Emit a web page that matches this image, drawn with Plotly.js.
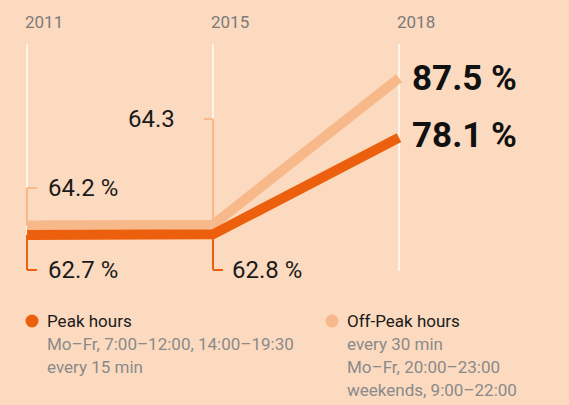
<!DOCTYPE html>
<html><head><meta charset="utf-8">
<script src="https://cdn.plot.ly/plotly-3.0.1.min.js"></script>
<style>html,body{margin:0;padding:0;background:#FCDAC0;} #chart{width:569px;height:405px;}</style>
</head><body><div id="chart"></div>
<script>
// ---- data ----
const years = ['2011', '2015', '2018'];
const peak = [62.7, 62.8, 78.1];
const offPeak = [64.2, 64.3, 87.5];
const peakLabels = ['62.7 %', '62.8 %', '78.1 %'];
const offPeakLabels = ['64.2 %', '64.3', '87.5 %'];
const legendNames = ['Peak hours', 'Off-Peak hours'];
const peakDetails = ['Mo–Fr, 7:00–12:00, 14:00–19:30', 'every 15 min'];
const offPeakDetails = ['every 30 min', 'Mo–Fr, 20:00–23:00', 'weekends, 9:00–22:00'];

// ---- layout constants ----
const W = 569, H = 405, T = 44, B = 134;
const plotH = H - T - B;                // 227
const yRange = [57.0, 92.9];
const pxPerUnit = plotH / (yRange[1] - yRange[0]);
const yFromPx = py => yRange[1] - (py - T) / pxPerUnit;
const paperY = py => (H - B - py) / plotH;
const paperX = px => px / W;
const cat = i => i; // category serial number on the x axis

const darkC = '#EC600D', lightC = '#F7B88A', bg = '#FCDAC0';
const FONT = 'Roboto, "DejaVu Sans", sans-serif';

const traces = [
  {x: years, y: offPeak, type: 'scatter', mode: 'lines', line: {color: lightC, width: 10}, hoverinfo: 'skip', showlegend: false},
  {x: years, y: peak, type: 'scatter', mode: 'lines', line: {color: darkC, width: 10}, hoverinfo: 'skip', showlegend: false}
];

const bottomY = yFromPx(270);
const offLabelY = [yFromPx(188), yFromPx(119)];
const shapes = [];
const annotations = [];

// brackets for labels, 2011 and 2015
[0, 1].forEach(i => {
  shapes.push({type: 'line', layer: 'between', xref: 'x', yref: 'y', x0: cat(i), x1: cat(i), y0: offPeak[i], y1: offLabelY[i], line: {color: lightC, width: 2}});
  shapes.push({type: 'line', layer: 'between', xref: 'x', yref: 'y', xsizemode: 'pixel', xanchor: cat(i),
    x0: 0, x1: i === 0 ? 10 : -9, y0: offLabelY[i], y1: offLabelY[i], line: {color: lightC, width: 2}});
  shapes.push({type: 'line', layer: 'between', xref: 'x', yref: 'y', x0: cat(i), x1: cat(i), y0: peak[i], y1: bottomY, line: {color: darkC, width: 2}});
  shapes.push({type: 'line', layer: 'between', xref: 'x', yref: 'y', xsizemode: 'pixel', xanchor: cat(i),
    x0: 0, x1: 10, y0: bottomY, y1: bottomY, line: {color: darkC, width: 2}});
});

const lblFont = {family: FONT, size: 24, color: '#1a1a1a'};
annotations.push({x: cat(0), y: offLabelY[0], xref: 'x', yref: 'y', text: offPeakLabels[0], showarrow: false, xanchor: 'left', yanchor: 'middle', xshift: 19, font: lblFont});
annotations.push({x: cat(1), y: offLabelY[1], xref: 'x', yref: 'y', text: offPeakLabels[1], showarrow: false, xanchor: 'right', yanchor: 'middle', xshift: -36, font: lblFont});
annotations.push({x: cat(0), y: bottomY, xref: 'x', yref: 'y', text: peakLabels[0], showarrow: false, xanchor: 'left', yanchor: 'middle', xshift: 19, font: lblFont});
annotations.push({x: cat(1), y: bottomY, xref: 'x', yref: 'y', text: peakLabels[1], showarrow: false, xanchor: 'left', yanchor: 'middle', xshift: 17, font: lblFont});
const bigFont = {family: FONT, size: 35, color: '#111111', weight: 700};
annotations.push({x: cat(2), y: offPeak[2], xref: 'x', yref: 'y', text: offPeakLabels[2], showarrow: false, xanchor: 'left', yanchor: 'middle', xshift: 11, font: bigFont});
annotations.push({x: cat(2), y: peak[2], xref: 'x', yref: 'y', text: peakLabels[2], showarrow: false, xanchor: 'left', yanchor: 'middle', xshift: 11, yshift: 2, font: bigFont});

// year labels at top
years.forEach((yr, i) => {
  annotations.push({x: cat(i), y: 1, xref: 'x', yref: 'paper', text: yr, showarrow: false, xanchor: 'left', yanchor: 'middle', xshift: -4, yshift: 22,
    font: {family: FONT, size: 17, color: '#7b7b7b'}});
});

// legend
const legendCols = [{dotX: 32, textX: 45, color: darkC, details: peakDetails}, {dotX: 332, textX: 345, color: lightC, details: offPeakDetails}];
legendCols.forEach((c, k) => {
  shapes.push({type: 'circle', xref: 'paper', yref: 'paper', xsizemode: 'pixel', ysizemode: 'pixel', xanchor: paperX(c.dotX), yanchor: paperY(321),
    x0: -6.5, x1: 6.5, y0: -6.5, y1: 6.5, fillcolor: c.color, line: {width: 0}});
  annotations.push({x: paperX(c.textX), y: paperY(321), xref: 'paper', yref: 'paper', text: legendNames[k], showarrow: false, xanchor: 'left', yanchor: 'middle',
    font: {family: FONT, size: 17, color: '#1a1a1a'}});
  c.details.forEach((d, j) => {
    annotations.push({x: paperX(c.textX), y: paperY(344 + 23 * j), xref: 'paper', yref: 'paper', text: d, showarrow: false, xanchor: 'left', yanchor: 'middle',
      font: {family: FONT, size: 17, color: '#8a8a8a'}});
  });
});

const layout = {
  width: W, height: H,
  margin: {l: 0, r: 0, t: T, b: B, pad: 0},
  paper_bgcolor: bg, plot_bgcolor: bg,
  showlegend: false,
  xaxis: {type: 'category', range: [-0.145, 2.914], showgrid: true, gridcolor: '#FFF4EA', gridwidth: 2,
    showticklabels: false, zeroline: false, showline: false, ticks: '', fixedrange: true},
  yaxis: {range: yRange, showgrid: false, zeroline: false, showline: false, showticklabels: false, ticks: '', fixedrange: true},
  shapes: shapes,
  annotations: annotations
};

Plotly.newPlot('chart', traces, layout, {displayModeBar: false, staticPlot: true});
</script>
</body></html>
